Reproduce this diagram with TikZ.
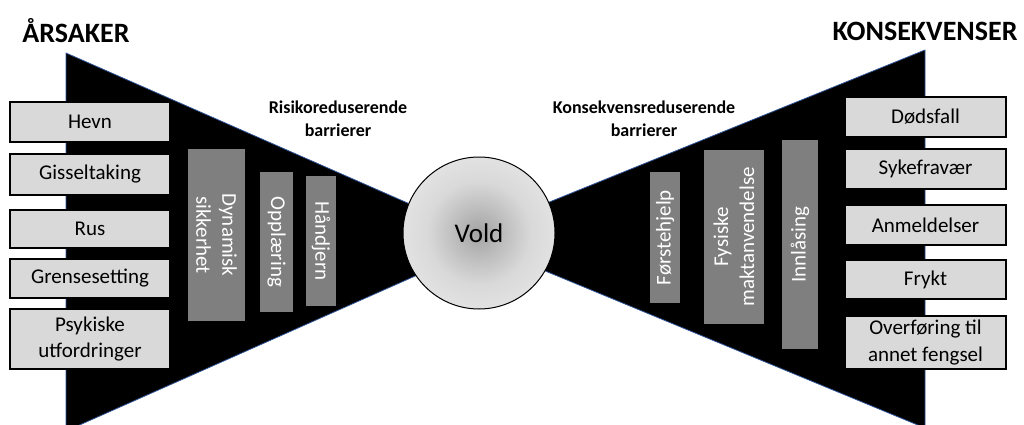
\documentclass[tikz,border=0pt]{standalone}
\usepackage{fontspec}
\setmainfont{Carlito}
\usetikzlibrary{shadings}
\definecolor{boxgray}{HTML}{D9D9D9}
\definecolor{bargray}{HTML}{7F7F7F}
\definecolor{edgeblue}{HTML}{2F5597}
\pgfdeclareradialshading{voldshade}{\pgfpoint{0bp}{0bp}}{color(0bp)=(black!36); color(8bp)=(black!26); color(17bp)=(black!15); color(26bp)=(black!11); color(35bp)=(black!9); color(50bp)=(black!8)}
\tikzset{
  causebox/.style={draw=black, line width=1.1pt, fill=boxgray, inner sep=1pt, align=center, font=\fontsize{21}{26}\selectfont, minimum width=160pt},
  barbox/.style={fill=bargray, text=white, inner sep=1pt, align=center, font=\fontsize{21}{26}\selectfont},
  headline/.style={font=\bfseries\fontsize{28}{30}\selectfont},
  barhead/.style={font=\bfseries\fontsize{18}{23}\selectfont, align=center},
  wedge/.style={fill=black, draw=edgeblue, line width=0.8pt, line join=round}
}
\begin{document}
\begin{tikzpicture}[x=1pt,y=-1pt]
\useasboundingbox (0,0) rectangle (1024,425);
\clip (0,0) rectangle (1024,425);
% wedges
\coordinate (ltop) at (66,53);
\coordinate (lbot) at (66,431);
\coordinate (lapex) at (494,241);
\coordinate (rtop) at (925,50);
\coordinate (rbot) at (925,428);
\coordinate (rapex) at (463,237);
\draw[wedge] (ltop) -- (lapex) -- (lbot) -- cycle;
\draw[wedge] (rtop) -- (rapex) -- (rbot) -- cycle;
% titles
\node[headline] (arsaker) at (76,31) {ÅRSAKER};
\node[headline] (konsekvenser) at (925,31) {KONSEKVENSER};
\node[barhead] (risiko) at (338,119) {Risikoreduserende\\barrierer};
\node[barhead] (konsred) at (644,119) {Konsekvensreduserende\\barrierer};
% causes
\node[causebox, minimum height=40pt] (hevn) at (90,122) {Hevn};
\node[causebox, minimum height=41pt] (gissel) at (90,174.5) {Gisseltaking};
\node[causebox, minimum height=38pt] (rus) at (90,229) {Rus};
\node[causebox, minimum height=39pt] (grense) at (90,278.5) {Grensesetting};
\node[causebox, minimum height=60pt] (psyk) at (90,339) {Psykiske\\utfordringer};
% consequences
\node[causebox, minimum width=161pt, minimum height=40pt] (dods) at (925.5,117) {Dødsfall};
\node[causebox, minimum width=161pt, minimum height=40pt] (syke) at (925.5,169) {Sykefravær};
\node[causebox, minimum width=161pt, minimum height=40pt] (anm) at (925.5,225) {Anmeldelser};
\node[causebox, minimum width=161pt, minimum height=39pt] (frykt) at (925.5,279.5) {Frykt};
\node[causebox, minimum width=161pt, minimum height=53pt, font=\fontsize{21}{27}\selectfont] (overf) at (925.5,342.5) {Overføring til\\annet fengsel};
% left barriers
\node[barbox, rotate=-90, minimum width=172pt, minimum height=57pt] (dyn) at (216.5,235) {Dynamisk\\sikkerhet};
\node[barbox, rotate=-90, minimum width=140pt, minimum height=33pt] (opp) at (276.5,242) {Opplæring};
\node[barbox, rotate=-90, minimum width=130pt, minimum height=30pt] (hand) at (321,241) {Håndjern};
% right barriers
\node[barbox, rotate=90, minimum width=131pt, minimum height=30pt] (forst) at (665,237.5) {Førstehjelp};
\node[barbox, rotate=90, minimum width=174pt, minimum height=60pt] (fys) at (734,237) {Fysiske\\maktanvendelse};
\node[barbox, rotate=90, minimum width=209pt, minimum height=36pt] (innl) at (800,244.5) {Innlåsing};
% centre event
\node[circle, draw=black, line width=1pt, minimum size=152pt, inner sep=0pt, shading=voldshade, font=\fontsize{27}{30}\selectfont] (vold) at (479,233) {Vold};
\end{tikzpicture}
\end{document}
